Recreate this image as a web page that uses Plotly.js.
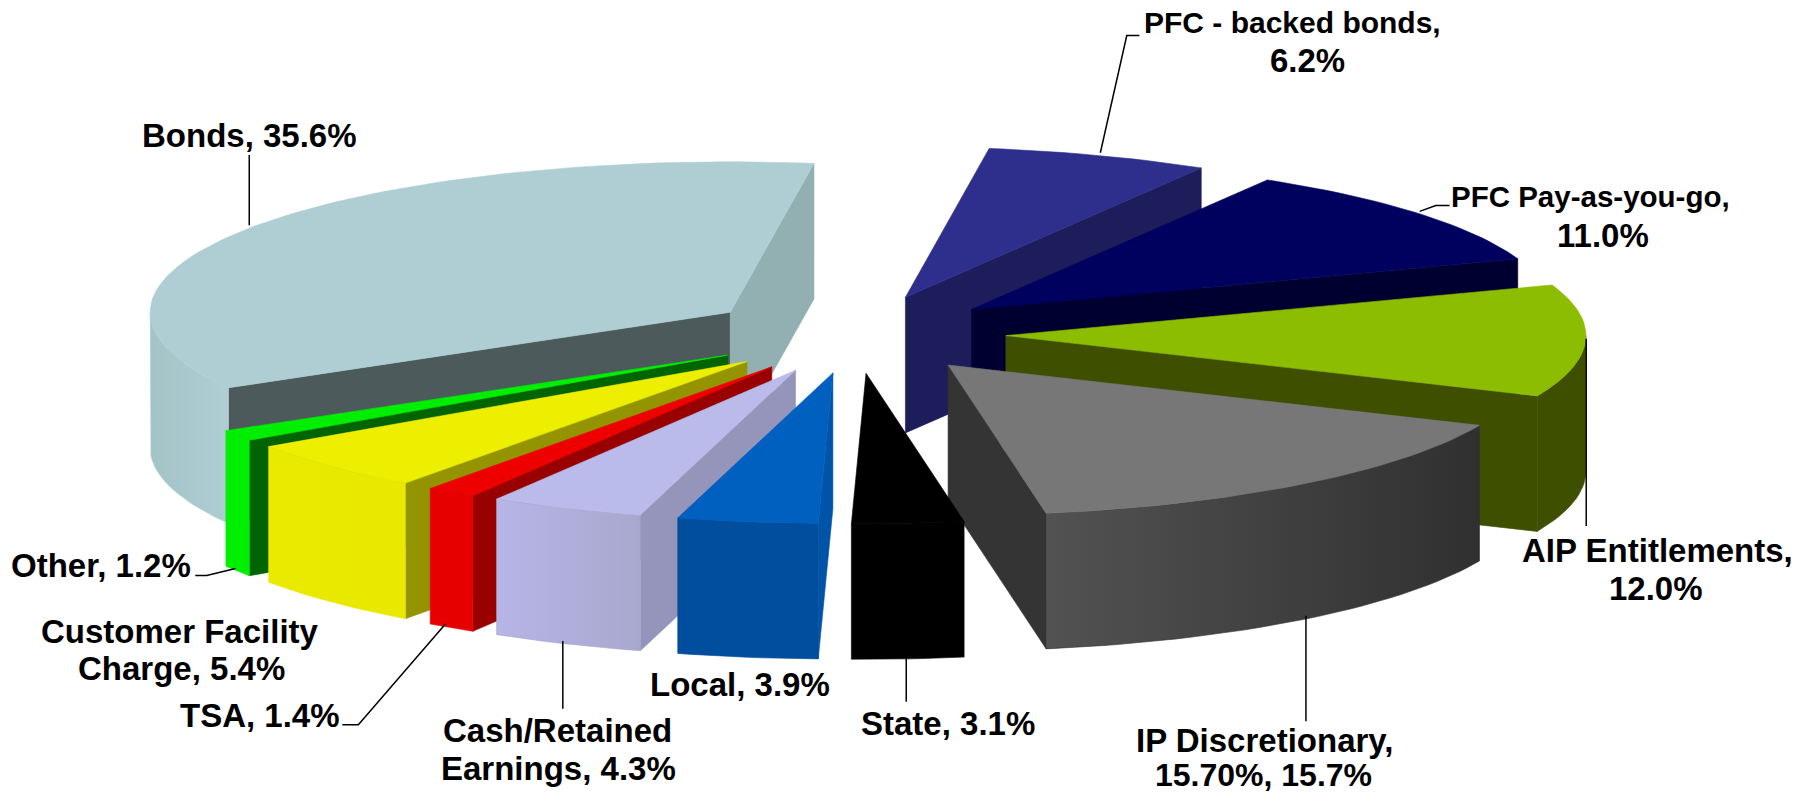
<!DOCTYPE html>
<html>
<head>
<meta charset="utf-8">
<script src="https://cdn.plot.ly/plotly-3.0.1.min.js"></script>
<style>html,body{margin:0;padding:0;background:#fff}</style>
</head>
<body>
<div id="chart" style="width:1801px;height:794px"></div>
<script>
// Data, clockwise from the first slice
const sliceNames = ["PFC - backed bonds","PFC Pay-as-you-go","AIP Entitlements","IP Discretionary","State","Local","Cash/Retained Earnings","TSA","Customer Facility Charge","Other","Bonds"];
const sliceValues = [6.2,11.0,12.0,15.7,3.1,3.9,4.3,1.4,5.4,1.2,35.6];
const labelLines = ["PFC - backed bonds,","6.2%","PFC Pay-as-you-go,","11.0%","AIP Entitlements,","12.0%","IP Discretionary,","15.70%, 15.7%","State, 3.1%","Local, 3.9%","Cash/Retained","Earnings, 4.3%","TSA, 1.4%","Customer Facility","Charge, 5.4%","Other, 1.2%","Bonds, 35.6%"];

// Styles
const topColors  = ["#2E2E8C","#00005F","#8DBD00","#777777","#000000","#0060C0","#BBBBEB","#EE0000","#EEEE00","#00EE00","#AECED3"];
const startFace  = ["#1D1D5C","#000030","#3E5000","#343434","#000000","#0054A8","#9595BC","#990000","#949400","#006400","#4C5A5C"];
const endFace    = ["#1D1D5C","#000030","#3E5000","#343434","#000000","#0054A8","#9595BC","#990000","#949400","#006400","#92B0B2"];
const wallLeft   = ["#1D1D5C","#000030","#3E5000","#525252","#000000","#004E9D","#B6B5E6","#E60000","#EAEA00","#00EE00","#A3C3C7"];
const wallRight  = ["#1D1D5C","#000030","#3E5000","#303030","#000000","#004E9D","#A8A8CE","#E60000","#E8E800","#00EE00","#AECED3"];
const lineSizes  = [30,33,29.5,33,33,33,33,32,33,33,33,33,33,33,33,33,33];

// Geometry of the projected pie (pixels in the 1801x794 frame)
const S = 1801/1568;
const CX = 744.5*S, CY = 291*S, RX = 505*S, RY = 131*S, DEPTH = 118*S, EXPLODE = 0.26, FIRST_ANGLE = 8.3;

// Label line centres and leader lines, in the reference's preview coordinates
const linePos = [[1125,20],[1138,53],[1385,171],[1396,205],[1443,479],[1442,512],[1101,645],[1100,675],[825,630],[644,596],[485,636],[486,669],[226,623],[157,550],[158,582],[88,492],[217,118]];
const leaders = [
  [[958,133],[981,31],[992,31]],
  [[1236,184],[1250,179],[1262,179]],
  [[1381,295],[1381,458]],
  [[1137,536],[1137,628]],
  [[789,572],[789,611]],
  [[490,558],[490,617]],
  [[388,543],[312,631],[298,631]],
  [[205,495],[180,501],[170,501]],
  [[217,135],[217,196]]
];
const drawOrder = [10,0,1,2,3,9,8,7,6,5,4];

const total = sliceValues.reduce((a,b)=>a+b,0);
const rad = d => d*Math.PI/180;
let acc = FIRST_ANGLE;
const slices = sliceValues.map(v => { const a0 = acc; acc += v/total*360; return {a0, a1: acc}; });

function apex(s){
  const m = rad((s.a0+s.a1)/2);
  return [CX + EXPLODE*RX*Math.sin(m), CY - EXPLODE*RY*Math.cos(m)];
}
function rim(ap, deg){ return [ap[0] + RX*Math.sin(rad(deg)), ap[1] - RY*Math.cos(rad(deg))]; }
function arc(ap, a0, a1){
  const n = Math.max(2, Math.ceil((a1-a0)/1.5)), out = [];
  for (let k=0;k<=n;k++) out.push(rim(ap, a0+(a1-a0)*k/n));
  return out;
}
function poly(pts, color, name, gradient){
  const t = {
    type:'scatter', mode:'lines', x:pts.map(p=>p[0]).concat(pts[0][0]), y:pts.map(p=>p[1]).concat(pts[0][1]),
    fill:'toself', fillcolor:color, line:{color:color,width:0.6}, hoverinfo:'skip', showlegend:false, name:name
  };
  if (gradient) {
    t.fillgradient = {type:'horizontal', start:gradient.start, stop:gradient.stop, colorscale:[[0,gradient.c0],[1,gradient.c1]]};
  }
  return t;
}
const down = p => [p[0], p[1]+DEPTH];

const traces = [];
drawOrder.forEach(i => {
  const s = slices[i], ap = apex(s), name = sliceNames[i];
  const sa = Math.sin(rad(s.a0)), sb = Math.sin(rad(s.a1));
  // radial faces
  if (sa < 0) { const e = rim(ap, s.a0); traces.push(poly([ap, e, down(e), down(ap)], startFace[i], name)); }
  if (sb > 0) { const e = rim(ap, s.a1); traces.push(poly([ap, e, down(e), down(ap)], endFace[i], name)); }
  // outer wall: the front half of the rim, 90 to 270 degrees
  for (const shift of [0,360]) {
    const lo = Math.max(s.a0, 90+shift), hi = Math.min(s.a1, 270+shift);
    if (hi > lo) {
      const top = arc(ap, lo, hi);
      const pts = top.concat(top.slice().reverse().map(down));
      const xs = top.map(p=>p[0]);
      traces.push(poly(pts, wallRight[i], name, {start:Math.min(...xs), stop:Math.max(...xs), c0:wallLeft[i], c1:wallRight[i]}));
    }
  }
  // top face
  traces.push(poly([ap].concat(arc(ap, s.a0, s.a1)), topColors[i], name));
});

leaders.forEach(l => traces.push({
  type:'scatter', mode:'lines', x:l.map(p=>p[0]*S), y:l.map(p=>p[1]*S),
  line:{color:'#000',width:1.5}, hoverinfo:'skip', showlegend:false
}));

const annotations = labelLines.map((t,i)=>({
  text:t, x:linePos[i][0]*S, y:linePos[i][1]*S, xref:'x', yref:'y', xanchor:'center', yanchor:'middle',
  showarrow:false, align:'center', font:{family:'"Liberation Sans", Arial, sans-serif', size:lineSizes[i], color:'#000', weight:700}
}));

Plotly.newPlot('chart', traces, {
  width:1801, height:794, margin:{l:0,r:0,t:0,b:0}, paper_bgcolor:'#fff', plot_bgcolor:'#fff', showlegend:false,
  xaxis:{range:[0,1801], visible:false, fixedrange:true},
  yaxis:{range:[794,0], visible:false, fixedrange:true},
  annotations
}, {displayModeBar:false, staticPlot:true});
</script>
</body>
</html>
